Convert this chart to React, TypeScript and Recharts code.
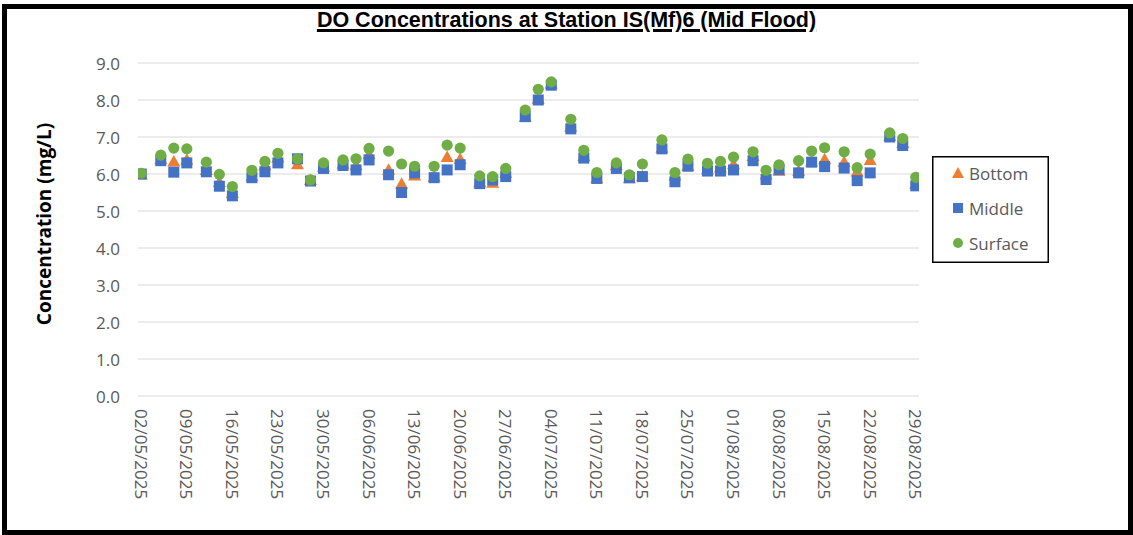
import React from 'react';
import { ScatterChart, Scatter, XAxis, YAxis, CartesianGrid, Legend } from 'recharts';

const dates = [
  '02/05/2025', '05/05/2025', '07/05/2025', '09/05/2025', '12/05/2025', '14/05/2025', '16/05/2025',
  '19/05/2025', '21/05/2025', '23/05/2025', '26/05/2025', '28/05/2025', '30/05/2025',
  '02/06/2025', '04/06/2025', '06/06/2025', '09/06/2025', '11/06/2025', '13/06/2025',
  '16/06/2025', '18/06/2025', '20/06/2025', '23/06/2025', '25/06/2025', '27/06/2025', '30/06/2025',
  '02/07/2025', '04/07/2025', '07/07/2025', '09/07/2025', '11/07/2025', '14/07/2025', '16/07/2025',
  '18/07/2025', '21/07/2025', '23/07/2025', '25/07/2025', '28/07/2025', '30/07/2025',
  '01/08/2025', '04/08/2025', '06/08/2025', '08/08/2025', '11/08/2025', '13/08/2025', '15/08/2025',
  '18/08/2025', '20/08/2025', '22/08/2025', '25/08/2025', '27/08/2025', '29/08/2025',
];

const bottom = [
  6.0, 6.42, 6.35, 6.4, 6.12, 5.8, 5.5, 5.95, 6.25, 6.46, 6.28, 5.85, 6.21,
  6.29, 6.25, 6.55, 6.13, 5.75, 5.97, 5.94, 6.47, 6.42, 5.79, 5.78, 6.05, 7.56,
  8.05, 8.45, 7.3, 6.5, 5.9, 6.25, 5.9, 5.95, 6.72, 5.97, 6.23, 6.14, 6.19,
  6.28, 6.5, 6.0, 6.1, 6.1, 6.35, 6.41, 6.34, 6.08, 6.39, 7.05, 6.85, 5.75,
];

const middle = [
  6.0, 6.36, 6.05, 6.3, 6.06, 5.67, 5.41, 5.9, 6.06, 6.3, 6.41, 5.81, 6.15,
  6.23, 6.11, 6.38, 5.98, 5.5, 6.03, 5.9, 6.11, 6.25, 5.74, 5.84, 5.93, 7.55,
  8.0, 8.4, 7.22, 6.43, 5.88, 6.15, 5.9, 5.93, 6.68, 5.79, 6.21, 6.08, 6.08,
  6.11, 6.36, 5.85, 6.12, 6.03, 6.32, 6.2, 6.16, 5.82, 6.03, 7.0, 6.77, 5.68,
];

const surface = [
  6.02, 6.51, 6.7, 6.68, 6.32, 5.99, 5.66, 6.1, 6.34, 6.56, 6.41, 5.84, 6.3,
  6.38, 6.41, 6.69, 6.62, 6.27, 6.21, 6.21, 6.78, 6.7, 5.95, 5.93, 6.15, 7.73,
  8.29, 8.49, 7.48, 6.64, 6.04, 6.3, 5.98, 6.27, 6.92, 6.04, 6.4, 6.29, 6.34,
  6.46, 6.6, 6.1, 6.25, 6.36, 6.62, 6.71, 6.6, 6.17, 6.54, 7.11, 6.96, 5.91,
];

const xTickLabels = [
  '02/05/2025', '09/05/2025', '16/05/2025', '23/05/2025', '30/05/2025', '06/06/2025',
  '13/06/2025', '20/06/2025', '27/06/2025', '04/07/2025', '11/07/2025', '18/07/2025',
  '25/07/2025', '01/08/2025', '08/08/2025', '15/08/2025', '22/08/2025', '29/08/2025',
];

const yTicks = [0, 1, 2, 3, 4, 5, 6, 7, 8, 9];

const seriesNames = ['Bottom', 'Middle', 'Surface'];
const COLORS = { Bottom: '#ED7D31', Middle: '#4472C4', Surface: '#70AD47' };

const toDay = (s: string) => {
  const [d, m, y] = s.split('/').map(Number);
  return Date.UTC(y, m - 1, d) / 86400000;
};
const pad = (n: number) => (n < 10 ? '0' + n : '' + n);
const fmtDay = (day: number) => {
  const dt = new Date(Math.round(day) * 86400000);
  return `${pad(dt.getUTCDate())}/${pad(dt.getUTCMonth() + 1)}/${dt.getUTCFullYear()}`;
};

const makeSeries = (vals: number[]) => dates.map((d, i) => ({ x: toDay(d), y: vals[i] }));
const bottomData = makeSeries(bottom);
const middleData = makeSeries(middle);
const surfaceData = makeSeries(surface);

const xDomain = [toDay(dates[0]) - 0.5, toDay(dates[dates.length - 1]) + 0.5];
const xTicks = xTickLabels.map(toDay);

const TICK_FONT = '"Open Sans", "Liberation Sans", sans-serif';
const GREY = '#595959';

const Triangle = (p: any) => {
  const { cx, cy } = p;
  if (cx == null || cy == null) return null;
  return (
    <polygon
      points={`${cx},${cy - 6} ${cx + 6.5},${cy + 5.5} ${cx - 6.5},${cy + 5.5}`}
      fill={COLORS.Bottom}
    />
  );
};
const Square = (p: any) => {
  const { cx, cy } = p;
  if (cx == null || cy == null) return null;
  return <rect x={cx - 5.5} y={cy - 5.5} width={11} height={11} fill={COLORS.Middle} />;
};
const Dot = (p: any) => {
  const { cx, cy } = p;
  if (cx == null || cy == null) return null;
  return <circle cx={cx} cy={cy} r={5.6} fill={COLORS.Surface} />;
};

const XTick = (p: any) => {
  const { x, payload } = p;
  return (
    <text
      transform={`translate(${x},409) rotate(90)`}
      textAnchor="start"
      dominantBaseline="central"
      fill={GREY}
      fontSize={17}
      fontFamily={TICK_FONT}
    >
      {fmtDay(payload.value)}
    </text>
  );
};

const YTick = (p: any) => {
  const { y, payload } = p;
  return (
    <text
      x={120}
      y={y}
      textAnchor="end"
      dominantBaseline="central"
      fill={GREY}
      fontSize={17}
      fontFamily={TICK_FONT}
    >
      {Number(payload.value).toFixed(1)}
    </text>
  );
};

const YLabel = () => (
  <text
    x={44}
    y={224}
    transform="rotate(-90 44 224)"
    textAnchor="middle"
    dominantBaseline="central"
    fill="#000"
    fontSize={19}
    fontWeight="bold"
    fontFamily={TICK_FONT}
  >
    Concentration (mg/L)
  </text>
);

const LegendBox = () => {
  const rows = [34, 69, 104];
  return (
    <svg width={117} height={107} style={{ display: 'block' }}>
      <rect x={0.75} y={0.75} width={115.5} height={105.5} fill="#fff" stroke="#000" strokeWidth={1.5} />
      {seriesNames.map((name, i) => {
        const cy = rows[i] - 17;
        const cx = 26;
        let marker;
        if (name === 'Bottom')
          marker = (
            <polygon
              points={`${cx},${cy - 6} ${cx + 6},${cy + 5} ${cx - 6},${cy + 5}`}
              fill={COLORS.Bottom}
            />
          );
        else if (name === 'Middle')
          marker = <rect x={cx - 5} y={cy - 5} width={10} height={10} fill={COLORS.Middle} />;
        else marker = <circle cx={cx} cy={cy} r={5} fill={COLORS.Surface} />;
        return (
          <g key={name}>
            {marker}
            <text
              x={37}
              y={cy}
              dominantBaseline="central"
              fill={GREY}
              fontSize={17}
              fontFamily={TICK_FONT}
            >
              {name}
            </text>
          </g>
        );
      })}
    </svg>
  );
};

export default function App() {
  return (
    <div
      style={{
        position: 'absolute',
        left: 0,
        top: 0,
        width: 1133,
        height: 535,
        background: '#fff',
        overflow: 'hidden',
      }}
    >
      <ScatterChart
        width={1133}
        height={535}
        margin={{ top: 63, right: 214, bottom: 19, left: 78 }}
      >
        <CartesianGrid vertical={false} stroke="#d9d9d9" strokeWidth={1} />
        <XAxis
          type="number"
          dataKey="x"
          domain={xDomain}
          ticks={xTicks}
          interval={0}
          allowDataOverflow
          axisLine={false}
          tickLine={false}
          height={120}
          tick={<XTick />}
        />
        <YAxis
          type="number"
          dataKey="y"
          domain={[0, 9]}
          ticks={yTicks}
          interval={0}
          axisLine={false}
          tickLine={false}
          width={60}
          tick={<YTick />}
          label={<YLabel />}
        />
        <Legend
          layout="vertical"
          align="center"
          verticalAlign="middle"
          wrapperStyle={{ left: 932, top: 156, width: 117, height: 107 }}
          content={() => <LegendBox />}
        />
        <Scatter name="Bottom" data={bottomData} fill={COLORS.Bottom} shape={<Triangle />} isAnimationActive={false} />
        <Scatter name="Middle" data={middleData} fill={COLORS.Middle} shape={<Square />} isAnimationActive={false} />
        <Scatter name="Surface" data={surfaceData} fill={COLORS.Surface} shape={<Dot />} isAnimationActive={false} />
      </ScatterChart>
      <div
        style={{
          position: 'absolute',
          left: 0,
          top: 8,
          width: 1133,
          textAlign: 'center',
          fontFamily: 'Arial, "Liberation Sans", sans-serif',
          fontWeight: 'bold',
          fontSize: 21.5,
          lineHeight: '24px',
          color: '#000',
          textDecoration: 'underline',
          textDecorationThickness: '3px',
          textUnderlineOffset: '2px',
          pointerEvents: 'none',
        }}
      >
        DO Concentrations at Station IS(Mf)6 (Mid Flood)
      </div>
      <div
        style={{
          position: 'absolute',
          left: 2,
          top: 4,
          width: 1131,
          height: 531,
          boxSizing: 'border-box',
          border: '5px solid #000',
          pointerEvents: 'none',
        }}
      />
    </div>
  );
}
